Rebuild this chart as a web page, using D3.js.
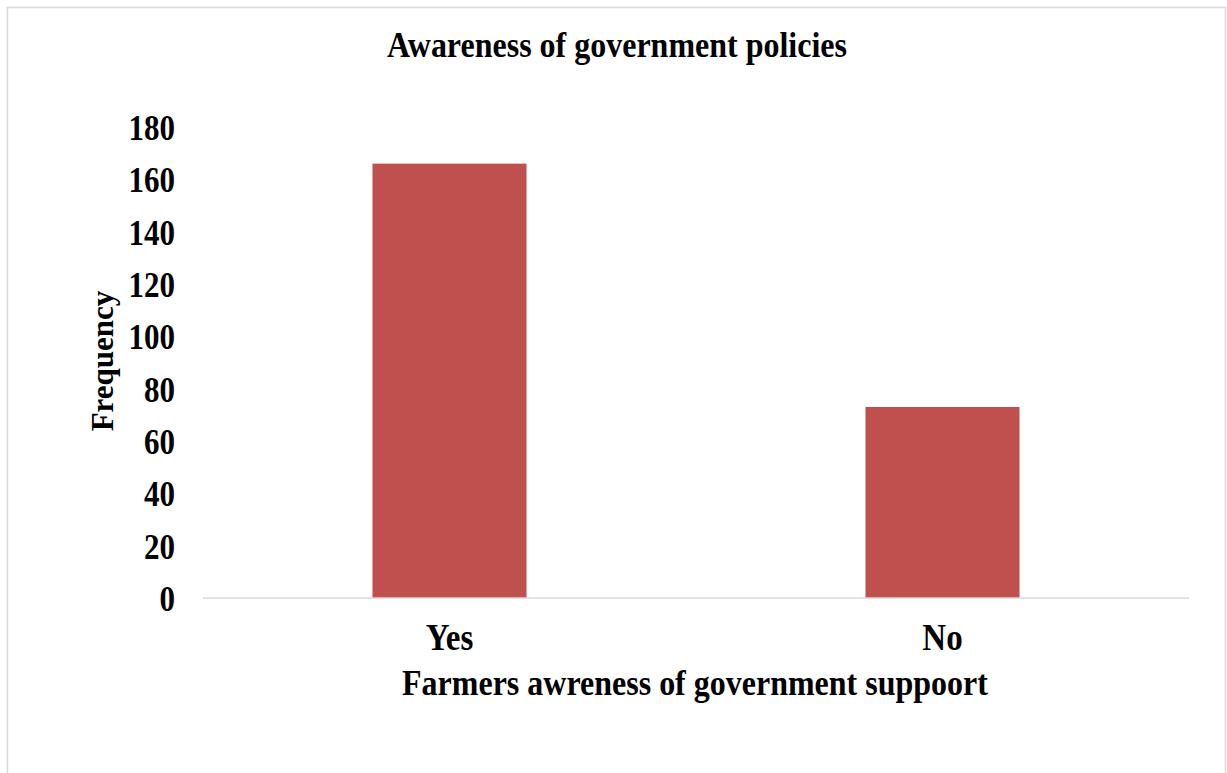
<!DOCTYPE html>
<html><head><meta charset="utf-8">
<script src="https://cdn.jsdelivr.net/npm/d3@7"></script>
<style>body{margin:0;background:#fff}svg{display:block}text{font-family:"Liberation Serif","Times New Roman",serif;font-weight:bold;fill:#000}</style>
</head><body>
<svg id="c" width="1227" height="773"></svg>
<script>
const categories = ["Yes", "No"];
const frequency = [166, 73];
const yTicks = [0, 20, 40, 60, 80, 100, 120, 140, 160, 180];
const titleText = "Awareness of government policies";
const xLabel = "Farmers awreness of government suppoort";
const yLabel = "Frequency";

const svg = d3.select("#c");
svg.append("rect").attr("x", 7.5).attr("y", 7.5).attr("width", 1218).attr("height", 800)
  .attr("fill", "#fff").attr("stroke", "#d9d9d9").attr("stroke-width", 1.5);

const x = d3.scaleBand().domain(categories).range([203, 1189]).paddingInner(0.6876).paddingOuter(0.3438);
const y = d3.scaleLinear().domain([0, 180]).range([598, 127]);

svg.selectAll("rect.bar").data(categories).join("rect").attr("class", "bar")
  .attr("x", d => x(d)).attr("width", x.bandwidth())
  .attr("y", (d, i) => y(frequency[i])).attr("height", (d, i) => y(0) - y(frequency[i]))
  .attr("fill", "#c0504d");

const yAxis = svg.append("g").attr("transform", "translate(175,0)")
  .call(d3.axisLeft(y).tickValues(yTicks).tickSize(0).tickPadding(0));
yAxis.select(".domain").remove();
yAxis.selectAll("text").attr("font-size", 31).attr("dy", "0.35em").attr("font-family", null)
  .attr("transform", "scale(1,1.14)");

svg.append("line").attr("x1", 203).attr("x2", 1189).attr("y1", 598).attr("y2", 598)
  .attr("stroke", "#d9d9d9").attr("stroke-width", 1.5);

const xAxis = svg.append("g").attr("transform", "translate(0,598)")
  .call(d3.axisBottom(x).tickSize(0).tickPadding(0));
xAxis.select(".domain").remove();
xAxis.selectAll("text").attr("font-size", 33).attr("y", 0).attr("dy", 0).attr("font-family", null)
  .attr("transform", "translate(0,52) scale(1,1.12)");

svg.append("text").attr("transform", "translate(617,57) scale(1,1.1)").attr("text-anchor", "middle").attr("font-size", 32).text(titleText);
svg.append("text").attr("transform", "translate(695,695) scale(1,1.12)").attr("text-anchor", "middle").attr("font-size", 32).text(xLabel);
svg.append("text").attr("transform", "translate(113,361) rotate(-90)").attr("text-anchor", "middle").attr("font-size", 31).text(yLabel);
</script>
</body></html>
